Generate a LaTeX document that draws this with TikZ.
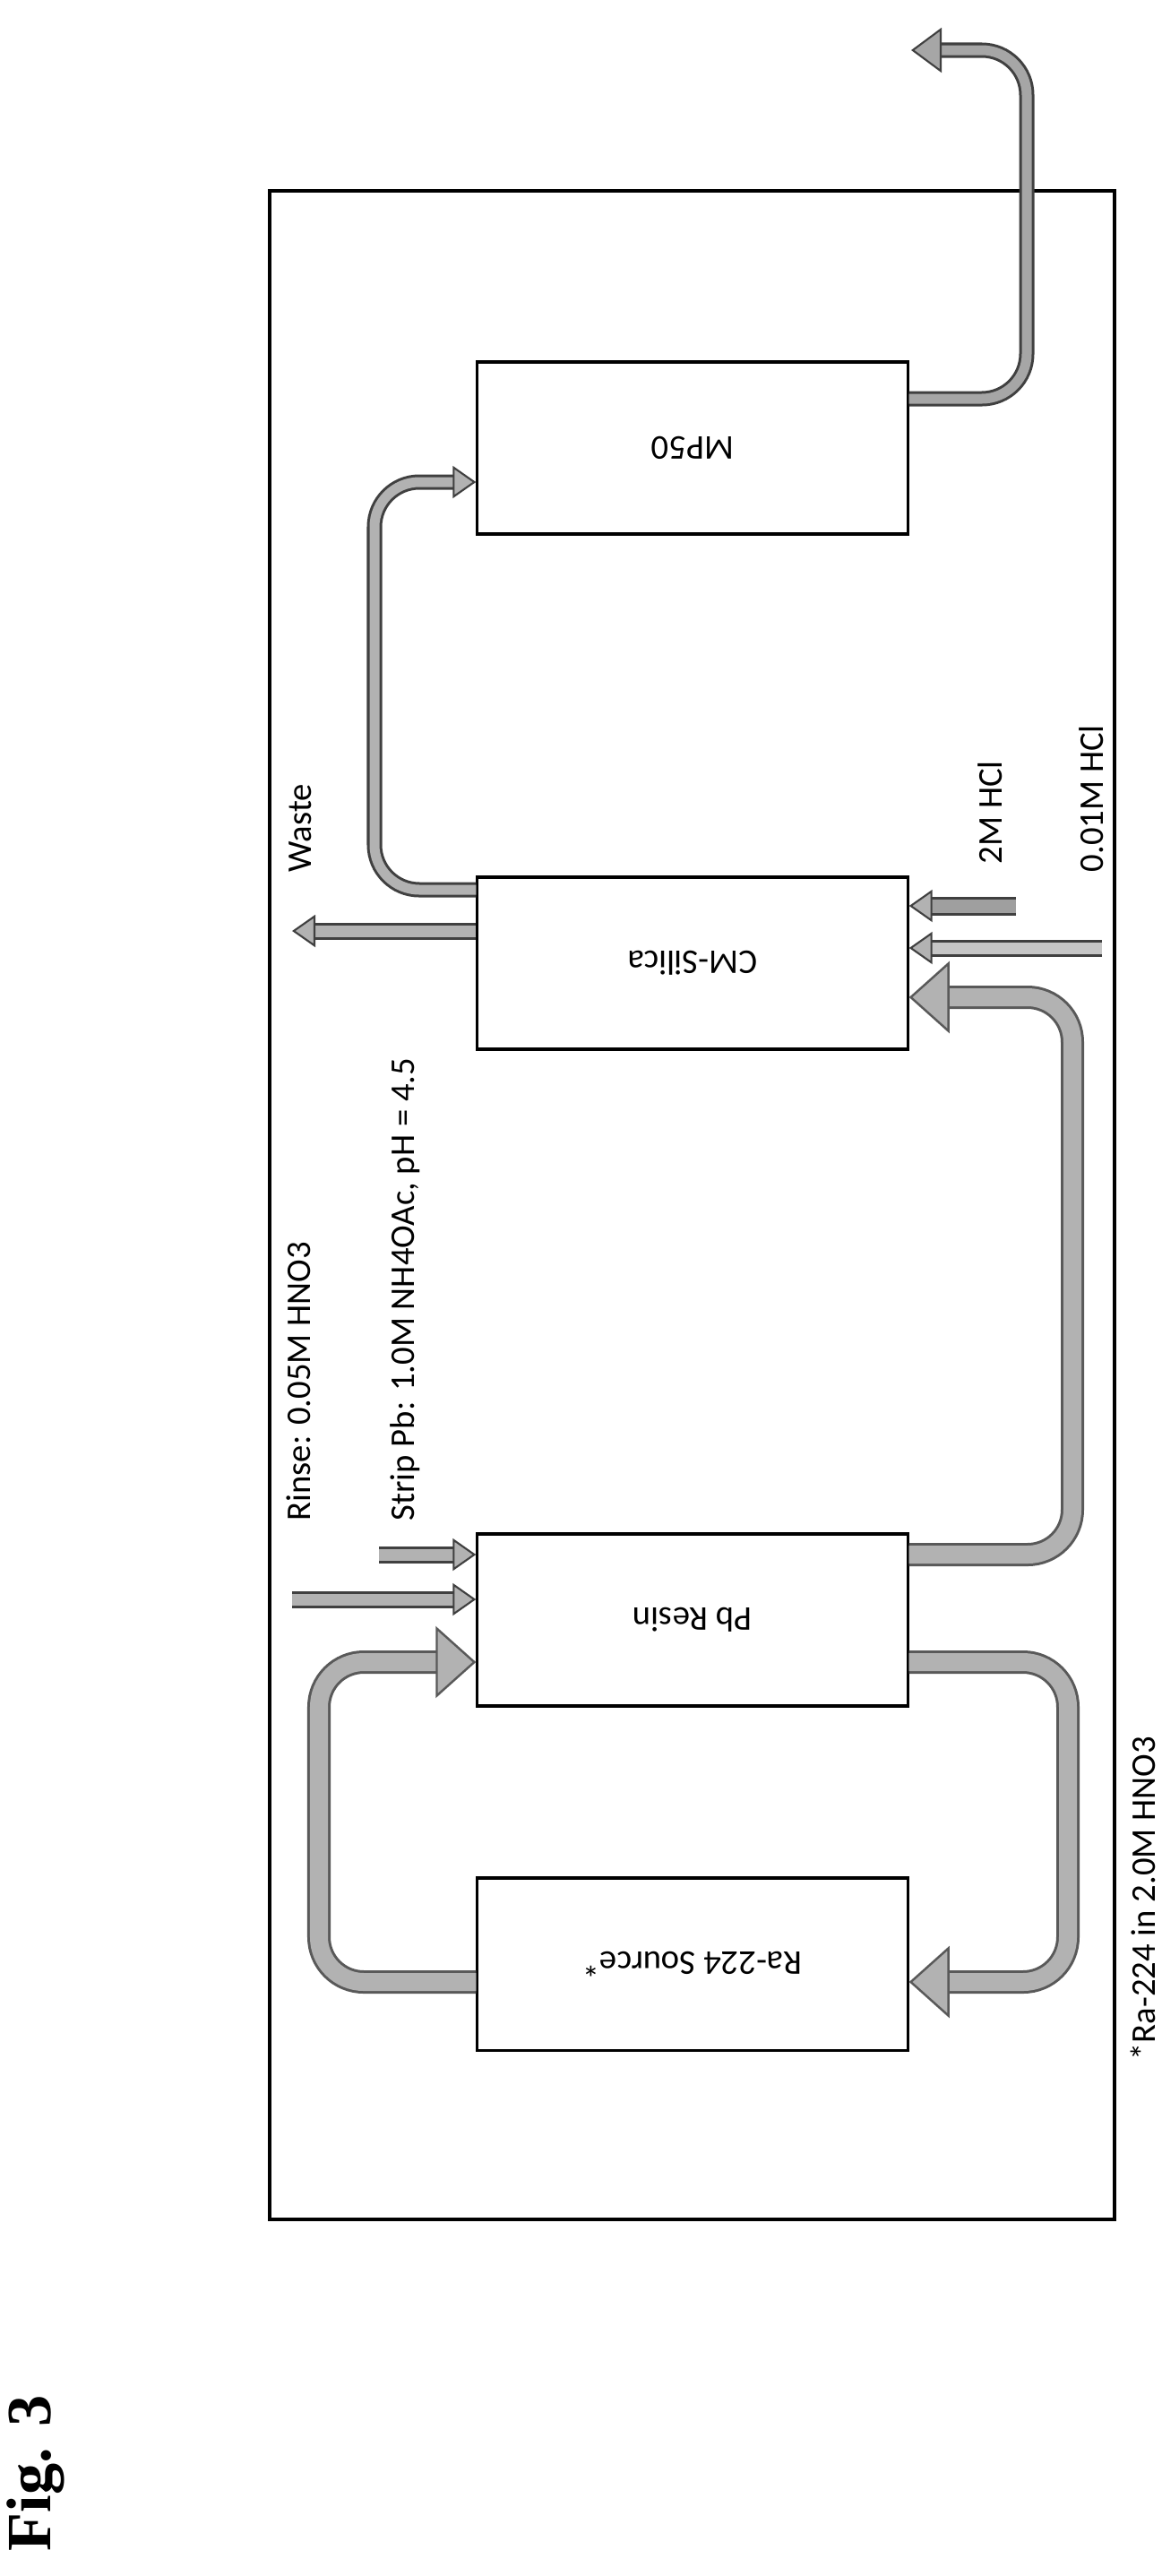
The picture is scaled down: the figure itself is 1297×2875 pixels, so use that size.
\documentclass[tikz,border=0pt]{standalone}
\usepackage{fontspec}
\setmainfont{Carlito}
\newfontfamily\figfont{Liberation Serif}
\usetikzlibrary{arrows.meta, positioning}

\begin{document}
\begin{tikzpicture}[
    x=0.01cm, y=-0.01cm,
    % Style for the columns
    column/.style={
        rectangle,
        draw=black,
        line width=0.9pt,
        minimum width=4.8cm,
        minimum height=1.92cm,
        inner sep=0pt
    },
    boxtext/.style={rotate=180, font=\fontsize{11}{13}\selectfont},
    % Wide flow band with a big head
    flow/.style={
        gray!60, line width=0.2cm, rounded corners=0.5cm,
        preaction={draw=black!65, line width=0.26cm, arrows=-, shorten >=0.4cm},
        -{Triangle[length=0.45cm, width=0.8cm, line width=0.7pt, fill=gray!60, color=black!65]}
    },
    % Thin flow band with a small head
    thinflow/.style={
        gray!60, line width=0.11cm, rounded corners=0.5cm,
        preaction={draw=black!75, line width=0.17cm, arrows=-, shorten >=0.2cm},
        -{Triangle[length=0.26cm, width=0.36cm, line width=0.6pt, fill=gray!60, color=black!75]}
    },
    % Feed lines
    feed/.style={
        thinflow, line width=0.13cm,
        preaction={draw=black!75, line width=0.19cm, arrows=-, shorten >=0.2cm}
    },
    lbl/.style={rotate=90, anchor=west, inner sep=0pt, font=\fontsize{11}{13}\selectfont}
]
\useasboundingbox (0,0) rectangle (1297,2875);

% frame
\draw[line width=1pt] (301,213) rectangle (1244,2477);

% columns
\node[column, label={[boxtext]center:MP50}] (mp) at (773,500) {};
\node[column, label={[boxtext]center:CM-Silica}] (cms) at (773,1075) {};
\node[column, label={[boxtext]center:Pb Resin}] (pb) at (773,1808) {};
\node[column, label={[boxtext]center:Ra-224 Source*}] (src) at (773,2192) {};

% free ends of the feed lines
\coordinate (rinse) at (326,1785);
\coordinate (strip) at (423,1735);
\coordinate (waste) at (326,1039);
\coordinate (hcl2) at (1134,1011);
\coordinate (hcl001) at (1230,1058);
\coordinate (out) at (1017,56);

% loop between source and Pb resin
\draw[flow] (src.west |- 0,2212) -- (356,2212) -- (356,1855) -- (pb.west |- 0,1855);
\draw[flow] (pb.east |- 0,1855) -- (1192,1855) -- (1192,2212) -- (src.east |- 0,2212);
% Pb resin to CM-Silica
\draw[flow] (pb.east |- 0,1735) -- (1197,1735) -- (1197,1113) -- (cms.east |- 0,1113);
% CM-Silica to MP50 and out
\draw[thinflow] (cms.west |- 0,993) -- (418,993) -- (418,538) -- (mp.west |- 0,538);
\draw[thinflow, gray!70,
    -{Triangle[length=0.34cm, width=0.5cm, line width=0.6pt, fill=gray!70, color=black!75]}]
    (mp.east |- 0,445) -- (1146,445) -- (1146,56) -- (out);

% feeds
\draw[feed] (rinse) -- (pb.west |- rinse);
\draw[feed] (strip) -- (pb.west |- strip);
\draw[feed] (cms.west |- waste) -- (waste);
\draw[feed, gray!75, line width=0.15cm,
    preaction={draw=black!75, line width=0.21cm, arrows=-, shorten >=0.2cm}] (hcl2) -- (cms.east |- hcl2);
\draw[feed, gray!45] (hcl001) -- (cms.east |- hcl001);

% labels
\node[lbl] at (333,1698) {Rinse: 0.05M HNO3};
\node[lbl] at (452,1698) {Strip Pb: 1.0M NH4OAc, pH = 4.5};
\node[lbl] at (335,974) {Waste};
\node[lbl] at (1105,965) {2M HCl};
\node[lbl] at (1218,974) {0.01M HCl};
\node[lbl] at (1276,2300) {*Ra-224 in 2.0M HNO3};
\node[lbl, font=\figfont\bfseries\fontsize{20}{24}\selectfont] at (40,2848) {Fig. 3};
\end{tikzpicture}
\end{document}
